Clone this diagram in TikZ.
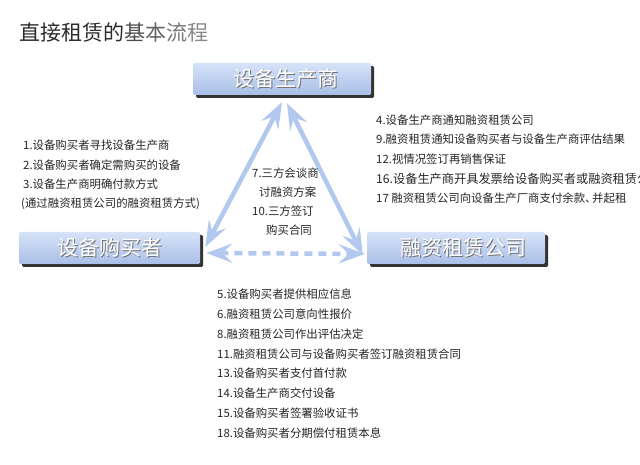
\documentclass[tikz,border=0pt]{standalone}
\usepackage{fontspec}
\setmainfont{Noto Sans CJK SC}
\usetikzlibrary{arrows.meta,shadows,calc}
\definecolor{arrowblue}{HTML}{B2C8EF}
\definecolor{boxtop}{HTML}{D6E2F8}
\definecolor{boxbot}{HTML}{A9BFE8}
\definecolor{txt}{HTML}{262626}
\newcommand{\embossed}[1]{{\color{black!55}\rlap{\raisebox{-1.2pt}{\hspace{1.2pt}#1}}}{\color{white}#1}}
\tikzset{
  mainbox/.style={draw=none, rounded corners=1.5pt, top color=boxtop, bottom color=boxbot,
    minimum height=32pt, inner sep=0pt, font=\fontsize{21}{21}\selectfont,
    drop shadow={shadow xshift=3pt, shadow yshift=-3pt, fill=black!80, opacity=1}},
  listtext/.style={anchor=west, inner sep=0pt, text=txt, font=\fontsize{11.4}{12}\selectfont},
  flow/.style={draw=arrowblue, line width=4.5pt,
    {Stealth[length=26pt,width=19pt,inset=10pt,fill=arrowblue]}-{Stealth[length=26pt,width=19pt,inset=10pt,fill=arrowblue]}},
  dflow/.style={flow, dash pattern=on 8pt off 6pt}
}
\begin{document}
\begin{tikzpicture}[x=1pt,y=-1pt]
\useasboundingbox[fill=white] (0,0) rectangle (640,465);

% title
\node[anchor=west, inner sep=0pt, font=\fontsize{21}{21}\selectfont] (title) at (19,32.5)
  {\color[HTML]{2B2B2B}直接租赁的\color[HTML]{4C4C4C}基\color[HTML]{636363}本\color[HTML]{767676}流\color[HTML]{888888}程};

% boxes
\node[mainbox, minimum width=178pt] (maker) at (282,79) {\hspace{8pt}\embossed{设备生产商}};
\node[mainbox, minimum width=181pt] (buyer) at (109.5,248) {\embossed{设备购买者}\hspace{12pt}};
\node[mainbox, minimum width=178pt] (lessor) at (456,248) {\hspace{14pt}\embossed{融资租赁公司}};

% connectors
\coordinate (bL) at ($(buyer.east)+(5,-1)$);
\coordinate (mL) at ($(maker.south)+(0,7)$);
\coordinate (mR) at ($(maker.south)+(5,8)$);
\coordinate (lR) at ($(lessor.west)+(-4,7)$);
\coordinate (bD) at ($(buyer.east)+(6,5)$);
\coordinate (lD) at ($(lessor.west)+(-2,6)$);
\draw[flow] (bL) -- (mL);
\draw[flow] (mR) -- (lR);
\draw[dflow] (bD) -- (lD);

% left list
\node[listtext] (l1) at (23,145.5) {1.设备购买者寻找设备生产商};
\node[listtext] (l2) at (23,165) {2.设备购买者确定需购买的设备};
\node[listtext] (l3) at (23,184.5) {3.设备生产商明确付款方式};
\node[listtext] (l4) at (21,204) {(通过融资租赁公司的融资租赁方式)};

% right list
\node[listtext] (r1) at (376,120) {4.设备生产商通知融资租赁公司};
\node[listtext] (r2) at (376,139.5) {9.融资租赁通知设备购买者与设备生产商评估结果};
\node[listtext] (r3) at (376,159) {12.视情况签订再销售保证};
\node[listtext, font=\fontsize{12.2}{12}\selectfont] (r4) at (376,178.5) {16.设备生产商开具发票给设备购买者或融资租赁公司};
\node[listtext] (r5) at (376,198) {17 融资租赁公司向设备生产厂商支付余款\makebox[7pt][l]{、}并起租};

% middle
\node[listtext] (m1) at (252,173) {7.三方会谈商};
\node[listtext] (m2) at (259,192) {讨融资方案};
\node[listtext] (m3) at (252,211) {10.三方签订};
\node[listtext] (m4) at (266,230.5) {购买合同};

% bottom list
\node[listtext] (b1) at (217,294) {5.设备购买者提供相应信息};
\node[listtext] (b2) at (217,313.9) {6.融资租赁公司意向性报价};
\node[listtext] (b3) at (217,333.8) {8.融资租赁公司作出评估决定};
\node[listtext] (b4) at (217,353.7) {11.融资租赁公司与设备购买者签订融资租赁合同};
\node[listtext] (b5) at (217,373.6) {13.设备购买者支付首付款};
\node[listtext] (b6) at (217,393.5) {14.设备生产商交付设备};
\node[listtext] (b7) at (217,413.4) {15.设备购买者签署验收证书};
\node[listtext] (b8) at (217,433.3) {18.设备购买者分期偿付租赁本息};
\end{tikzpicture}
\end{document}
